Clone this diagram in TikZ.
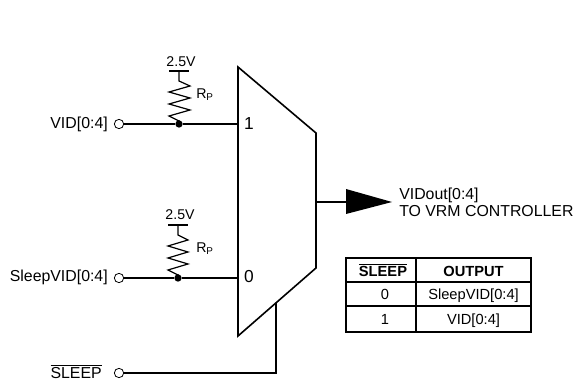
\documentclass[tikz,border=0pt]{standalone}
\usepackage{fontspec}
\setmainfont{Liberation Sans}
\usetikzlibrary{calc}
\newcommand{\barred}[1]{\leavevmode\vbox{\hrule height 0.8pt\kern 1.2pt\hbox{#1}}}
\begin{document}
\begin{tikzpicture}
    [
        x=0.75pt, y=-0.75pt,
        wire/.style={line width=1.2pt, black},
        label/.style={inner sep=0pt, font=\fontsize{11.9}{14}\selectfont},
        small/.style={inner sep=0pt, font=\fontsize{10.6}{12}\selectfont},
        pinnum/.style={inner sep=0pt, font=\fontsize{13}{15}\selectfont},
        port/.style={circle, draw=black, fill=white, line width=0.6pt, inner sep=0pt, minimum size=7pt},
        junction/.style={circle, fill=black, inner sep=0pt, minimum size=5.5pt},
        cell/.style={draw=black, line width=1.2pt, inner sep=0pt, text centered, text height=8pt, text depth=0pt, minimum height=18pt, font=\fontsize{11}{13}\selectfont},
        narrow/.style={cell, minimum width=52.5pt},
        wide/.style={cell, minimum width=86.25pt},
        headcell/.style={text height=10.5pt, font=\fontsize{11}{13}\selectfont\bfseries}
    ]
    \useasboundingbox (0,0) rectangle (576,381);

    % Mux
    \coordinate (muxtop) at (238,67);
    \coordinate (muxright) at (316,133);
    \coordinate (muxlow) at (316,268);
    \coordinate (muxbottom) at (238,336);
    \coordinate (muxin1) at (238,124);
    \coordinate (muxin0) at (238,278);
    \coordinate (muxsel) at (276,303);
    \coordinate (muxout) at (316,202);
    \draw[wire] (muxtop) -- (muxright) -- (muxlow) -- (muxbottom) -- cycle;
    \draw[line width=1.8pt] (muxtop) -- (238,302);
    \node[pinnum] (one) at (249,124) {1};
    \node[pinnum] (zero) at (249,277) {0};

    % Inputs
    \node[port] (vid) at (119,124) {};
    \node[port] (sleepvid) at (119,278) {};
    \node[port] (sleep) at (119,373) {};
    \node[label, anchor=east] (vidtext) at (108,124) {VID[0:4]};
    \node[label, anchor=east] (sleepvidtext) at (108,277) {SleepVID[0:4]};
    \node[label, anchor=east] (sleeptext) at (102,371.5) {\barred{SLEEP}};

    % Pull-ups
    \node[junction] (dotone) at (179,124) {};
    \node[junction] (dotzero) at (178,278) {};
    \node[small] (vone) at (181,62) {2.5V};
    \node[small] (vzero) at (180,215) {2.5V};
    \node[small, anchor=west] (rone) at (196,95) {R\textsubscript{P}};
    \node[small, anchor=west] (rzero) at (196,249) {R\textsubscript{P}};
    \coordinate (railone) at (179,71);
    \coordinate (railzero) at (178,225);
    \draw[wire] ($(railone)+(-10,0)$) -- ($(railone)+(10,0)$);
    \draw[wire] ($(railzero)+(-10,0)$) -- ($(railzero)+(10,0)$);
    \draw[line width=0.9pt] (railone) -- ++(0,10) -- ++(11,5) -- ++(-21,6) -- ++(21,6) -- ++(-21,6) -- ++(21,6) -- ++(-21,6) -- ++(10,5) -- (dotone);
    \draw[line width=0.9pt] (railzero) -- ++(0,10) -- ++(10,5) -- ++(-20,6) -- ++(20,6) -- ++(-20,6) -- ++(20,6) -- ++(-20,6) -- ++(10,5) -- (dotzero);

    % Wires
    \draw[wire] (vid) -- (dotone) -- (muxin1);
    \draw[wire] (sleepvid) -- (dotzero) -- (muxin0);
    \draw[wire] (sleep) -| (muxsel);

    % Output
    \coordinate (arrowtail) at (346,202);
    \coordinate (arrowtip) at (392,202);
    \draw[wire] (muxout) -- (arrowtail);
    \fill[black] (346,189) -- (arrowtip) -- (346,214) -- cycle;
    \node[label, anchor=west] (out) at (399,195) {VIDout[0:4]};
    \node[label, anchor=west] (ctrl) at (399,211) {TO VRM CONTROLLER};

    % Table
    \node[narrow, headcell] (head) at (381,270) {\hspace{3pt}\barred{SLEEP}};
    \node[wide, headcell] (headout) at (473.5,270) {OUTPUT};
    \node[narrow] (zeroval) at (381,294) {\hspace{6pt}0};
    \node[wide] (zeroout) at (473.5,294) {SleepVID[0:4]\hspace{3pt}};
    \node[narrow, minimum height=19.5pt] (oneval) at (381,319) {\hspace{6pt}1};
    \node[wide, minimum height=19.5pt] (oneout) at (473.5,319) {VID[0:4]};
\end{tikzpicture}
\end{document}
